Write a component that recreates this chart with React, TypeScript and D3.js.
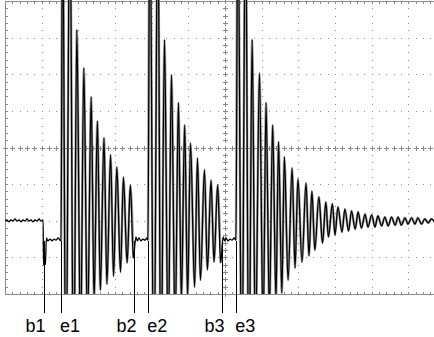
import { useEffect, useRef } from "react";
import * as d3 from "d3";

// time in screen divisions (0..12), amplitude in divisions (-4..4)
const baseline: [number, number][] = [
  [0.0, -2.01], [0.05, -1.98], [0.11, -2.03], [0.16, -1.98], [0.22, -2.01], [0.27, -1.95],
  [0.33, -2.01], [0.38, -1.98], [0.44, -2.03], [0.49, -1.98], [0.55, -2.01], [0.6, -1.95],
  [0.65, -2.01], [0.71, -1.98], [0.76, -2.03], [0.82, -1.98], [0.87, -2.01], [0.93, -1.95],
  [0.98, -2.01], [1.04, -1.98],
];

const rest0: [number, number][] = [
  [1.05, -3.21], [1.1, -3.19], [1.13, -2.47], [1.17, -2.55], [1.23, -2.5], [1.28, -2.55],
  [1.34, -2.5], [1.39, -2.53], [1.45, -2.47], [1.5, -2.53], [1.53, -2.55],
];

const burst1: [number, number][] = [
  [1.57, 7], [1.66, -7], [1.77, 7], [1.87, -7], [1.96, 3.21], [2.06, -5.5], [2.15, 2.17],
  [2.25, -5.0], [2.35, 1.38], [2.43, -4.16], [2.52, 0.72], [2.6, -3.89], [2.7, 0.26],
  [2.78, -3.73], [2.88, -0.2], [2.96, -3.51], [3.05, -0.53], [3.15, -3.4], [3.23, -0.81],
  [3.33, -3.15], [3.42, -1.02], [3.5, -3.02],
];

const rest1: [number, number][] = [
  [3.57, -2.44], [3.61, -2.55], [3.65, -2.47], [3.71, -2.55], [3.76, -2.5], [3.82, -2.53],
  [3.87, -2.47], [3.9, -2.53],
];

const burst2: [number, number][] = [
  [3.95, 7], [4.06, -7], [4.17, 7], [4.25, -7], [4.35, 2.94], [4.45, -5.5], [4.54, 1.98],
  [4.64, -5.0], [4.73, 1.22], [4.81, -4.16], [4.9, 0.61], [4.98, -4.05], [5.06, 0.12],
  [5.17, -3.81], [5.25, -0.29], [5.33, -3.62], [5.44, -0.61], [5.52, -3.34], [5.62, -0.89],
  [5.7, -3.13], [5.8, -1.02], [5.88, -3.15],
];

const rest2: [number, number][] = [
  [5.95, -2.44], [5.99, -2.55], [6.03, -2.47], [6.08, -2.55], [6.14, -2.5], [6.19, -2.53],
  [6.25, -2.47], [6.3, -2.53],
];

const burst3: [number, number][] = [
  [6.35, 7], [6.46, -7], [6.56, 7], [6.65, -7], [6.74, 2.94], [6.83, -5.5], [6.94, 2.03],
  [7.04, -5.0], [7.12, 1.22], [7.21, -4.5], [7.3, 0.61], [7.39, -4.16], [7.46, 0.15],
  [7.55, -3.97], [7.62, -0.26], [7.72, -3.62], [7.83, -0.56], [7.91, -3.29], [7.99, -0.86],
  [8.1, -3.13], [8.21, -0.97], [8.29, -2.96], [8.37, -1.19], [8.45, -2.8], [8.56, -1.35],
  [8.66, -2.61], [8.75, -1.49], [8.82, -2.44], [8.93, -1.54], [9.0, -2.39], [9.08, -1.62],
  [9.19, -2.31], [9.27, -1.68], [9.37, -2.28], [9.45, -1.73], [9.55, -2.23], [9.63, -1.76],
  [9.72, -2.2], [9.82, -1.82], [9.9, -2.17], [10.0, -1.84], [10.09, -2.17], [10.17, -1.87],
  [10.27, -2.14], [10.36, -1.9], [10.45, -2.14], [10.54, -1.9], [10.64, -2.12], [10.72, -1.9],
  [10.81, -2.12], [10.91, -1.92], [10.99, -2.09], [11.09, -1.92], [11.18, -2.09], [11.26, -1.92],
  [11.36, -2.09], [11.45, -1.95], [11.54, -2.06], [11.63, -1.95], [11.73, -2.06],
];

const markerNames = ["b1", "e1", "b2", "e2", "b3", "e3"];
const markerTimes = [1.05, 1.53, 3.53, 3.91, 5.93, 6.31];

export default function App() {
  const svgRef = useRef<SVGSVGElement | null>(null);

  useEffect(() => {
    if (!svgRef.current) return;
    document.body.style.margin = "0";

    const width = 434;
    const height = 337;
    const svg = d3.select(svgRef.current);
    svg.selectAll("*").remove();
    svg.attr("width", width).attr("height", height);

    const x = d3.scaleLinear().domain([0, 12]).range([5, 445]);
    const y = d3.scaleLinear().domain([-4, 4]).range([294, 1]);

    const minorT = d3.range(0, 61).map((i) => i / 5);
    const minorV = d3.range(0, 41).map((i) => i / 5 - 4);
    const px = (v: number) => Math.round(v) + 0.5;

    svg.append("rect").attr("width", width).attr("height", height).attr("fill", "#fff");

    const grid = svg.append("g").attr("shape-rendering", "crispEdges");
    const dot = "#8a8a8a";

    // dotted graticule
    d3.range(1, 12).filter((t) => t !== 6).forEach((t) => {
      grid.selectAll(null)
        .data(minorV)
        .enter()
        .append("rect")
        .attr("x", Math.round(x(t)))
        .attr("y", (v: number) => Math.round(y(v)))
        .attr("width", 1)
        .attr("height", 1)
        .attr("fill", dot);
    });
    d3.range(-3, 4).filter((v) => v !== 0).forEach((v) => {
      grid.selectAll(null)
        .data(minorT)
        .enter()
        .append("rect")
        .attr("x", (t: number) => Math.round(x(t)))
        .attr("y", Math.round(y(v)))
        .attr("width", 1)
        .attr("height", 1)
        .attr("fill", dot);
    });

    // centre axes with cross ticks
    const cross = (cx: number, cy: number) => {
      grid.append("line").attr("x1", cx - 2).attr("x2", cx + 3).attr("y1", cy + 0.5).attr("y2", cy + 0.5)
        .attr("stroke", dot);
      grid.append("line").attr("x1", cx + 0.5).attr("x2", cx + 0.5).attr("y1", cy - 2).attr("y2", cy + 3)
        .attr("stroke", dot);
    };
    minorV.forEach((v) => cross(Math.round(x(6)), Math.round(y(v))));
    minorT.forEach((t) => cross(Math.round(x(t)), Math.round(y(0))));

    // frame
    const frame = "#8c8c8c";
    grid.append("line").attr("x1", x(0)).attr("x2", x(12)).attr("y1", px(y(4))).attr("y2", px(y(4))).attr("stroke", frame);
    grid.append("line").attr("x1", x(0)).attr("x2", x(12)).attr("y1", px(y(-4))).attr("y2", px(y(-4))).attr("stroke", frame);
    grid.append("line").attr("x1", px(x(0))).attr("x2", px(x(0))).attr("y1", y(4)).attr("y2", y(-4)).attr("stroke", frame);
    minorT.forEach((t) => {
      grid.append("line").attr("x1", px(x(t))).attr("x2", px(x(t))).attr("y1", y(-4) - 2).attr("y2", y(-4)).attr("stroke", frame);
      grid.append("line").attr("x1", px(x(t))).attr("x2", px(x(t))).attr("y1", y(4)).attr("y2", y(4) + 3).attr("stroke", frame);
    });
    minorV.forEach((v) => {
      grid.append("line").attr("x1", x(0)).attr("x2", x(0) + 3).attr("y1", px(y(v))).attr("y2", px(y(v))).attr("stroke", frame);
    });

    // trace
    svg.append("clipPath").attr("id", "plot-clip")
      .append("rect").attr("x", x(0)).attr("y", 0).attr("width", x(12) - x(0)).attr("height", y(-4));

    const line = d3.line()
      .x((d: any) => x(d[0]))
      .y((d: any) => y(d[1]))
      .curve(d3.curveMonotoneX);

    const traceG = svg.append("g").attr("clip-path", "url(#plot-clip)");

    // grey halo under the ringing bursts, as the capture smears the fast edges
    [burst1, burst2, burst3].forEach((b, i) => {
      const lead = [rest0, rest1, rest2][i];
      traceG.append("path")
        .attr("d", line([lead[lead.length - 1], ...b]))
        .attr("fill", "none")
        .attr("stroke", "#9c9c9c")
        .attr("stroke-width", 2.4);
    });

    const trace = [...baseline, ...rest0, ...burst1, ...rest1, ...burst2, ...rest2, ...burst3];
    traceG.append("path")
      .attr("d", line(trace))
      .attr("fill", "none")
      .attr("stroke", "#000")
      .attr("stroke-width", 1.3)
      .attr("stroke-linejoin", "round");

    // event markers
    const markers = markerNames.map((name, i) => ({ name, t: markerTimes[i] }));
    const mg = svg.append("g");
    mg.selectAll("line")
      .data(markers)
      .enter()
      .append("line")
      .attr("x1", (d: any) => px(x(d.t)))
      .attr("x2", (d: any) => px(x(d.t)))
      .attr("y1", y(-2.55))
      .attr("y2", 313)
      .attr("stroke", "#000")
      .attr("stroke-width", 1);

    mg.selectAll("text")
      .data(markers)
      .enter()
      .append("text")
      .attr("x", (d: any) => (d.name[0] === "b" ? x(d.t) + 2 : x(d.t) - 1))
      .attr("y", 332)
      .attr("text-anchor", (d: any) => (d.name[0] === "b" ? "end" : "start"))
      .attr("font-family", "'Liberation Sans', Arial, sans-serif")
      .attr("font-size", 18)
      .attr("fill", "#000")
      .text((d: any) => d.name);
  }, []);

  return (
    <div style={{ position: "absolute", left: 0, top: 0, lineHeight: 0 }}>
      <svg ref={svgRef} />
    </div>
  );
}
